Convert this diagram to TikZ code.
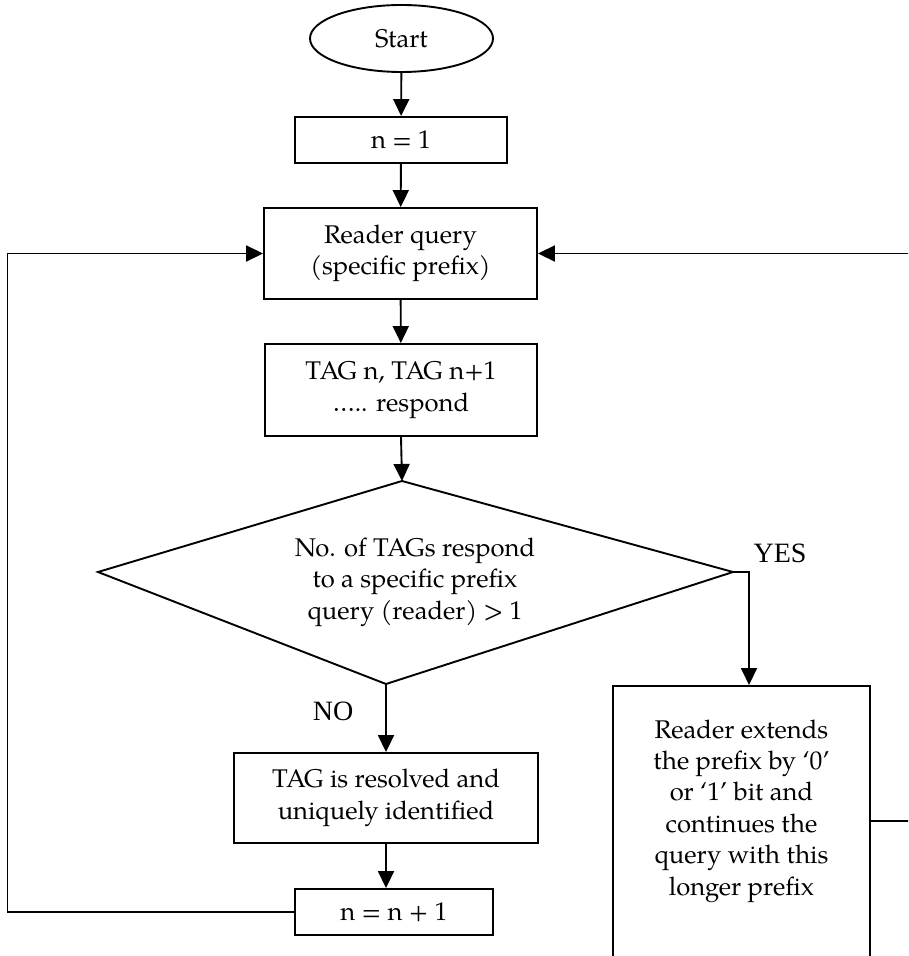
\documentclass[tikz,border=0pt]{standalone}
\usepackage{fontspec}
\setmainfont{TeX Gyre Pagella}
\newfontfamily\answerfont{Liberation Serif}
\usetikzlibrary{arrows.meta,shapes.geometric}
\tikzset{
	flowtext/.style={align=center, font=\fontsize{12.8}{15.7}\selectfont},
	flowbox/.style={draw, rectangle, line width=0.95pt, inner sep=0pt, flowtext},
	flowline/.style={line width=0.95pt},
	flowarrow/.style={line width=0.95pt, -{Triangle[length=8.5pt,width=8pt]}},
	answer/.style={font=\answerfont\fontsize{14}{16}\selectfont}
}

\begin{document}
\begin{tikzpicture}[x=0.5pt, y=-0.5pt]
			%%%%% START %%%%%
			\useasboundingbox (0,0) rectangle (908,956);
			\clip (0,0) rectangle (908,956);
			
			\node[draw, ellipse, line width=0.95pt, minimum width=91.5pt, minimum height=33.5pt, inner sep=0pt, flowtext] (start) at (401.5,38.5) {Start};
			\node[flowbox, minimum width=106pt, minimum height=23pt] (nOne) at (401,140) {n = 1};
			\node[flowbox, minimum width=136.5pt, minimum height=45.5pt] (query) at (400.5,253.5) {Reader query\\(specific prefix)};
			\node[flowbox, minimum width=136pt, minimum height=46pt] (respond) at (401,390) {TAG n, TAG n+1\\….. respond};
			
			% decision
			\coordinate (dT) at (402,481);
			\coordinate (dR) at (733,572);
			\coordinate (dB) at (386,684);
			\coordinate (dL) at (98,572);
			\draw[flowline] (dT) -- (dR) -- (dB) -- (dL) -- cycle;
			\node[flowtext] (decision) at (415,582) {No. of TAGs respond\\to a specific prefix\\query (reader) > 1};
			
			\node[answer] (yes) at (780,553) {YES};
			\node[answer] (no) at (333,711) {NO};
			
			\node[flowbox, minimum width=152pt, minimum height=45pt] (resolved) at (386,798) {TAG is resolved and\\uniquely identified};
			\node[flowbox, minimum width=99pt, minimum height=23pt] (nNext) at (394,912) {n = n + 1};
			
			\node[flowbox, minimum width=128.5pt, minimum height=160pt, anchor=north] (extend) at (741.5,685) {};
			\node[flowtext] (extendText) at (741.5,811) {Reader extends\\the prefix by ‘0’\\or ‘1’ bit and\\continues the\\query with this\\longer prefix};
			
			% straight arrows
			\draw[flowarrow] (start) -- (nOne);
			\draw[flowarrow] (nOne) -- (query);
			\draw[flowarrow] (query) -- (respond);
			\draw[flowarrow] (respond.south) -- (dT);
			\draw[flowarrow] (dB) -- (resolved);
			\draw[flowarrow] (resolved.south) -- (resolved.south |- nNext.north);
			
			% yes branch
			\coordinate (yesBend) at (749,572);
			\draw[flowarrow] (dR) -- (yesBend) -- (yesBend |- extend.north);
			
			% loops back to the query
			\coordinate (leftBack) at (7.5,912);
			\draw[flowarrow] (nNext.west) -- (leftBack) |- (query.west);
			\coordinate (rightBack) at (930,821);
			\draw[flowarrow] (extend.east |- rightBack) -- (rightBack) |- (query.east);
			
			%%%%% END %%%%%
\end{tikzpicture}
\end{document}
